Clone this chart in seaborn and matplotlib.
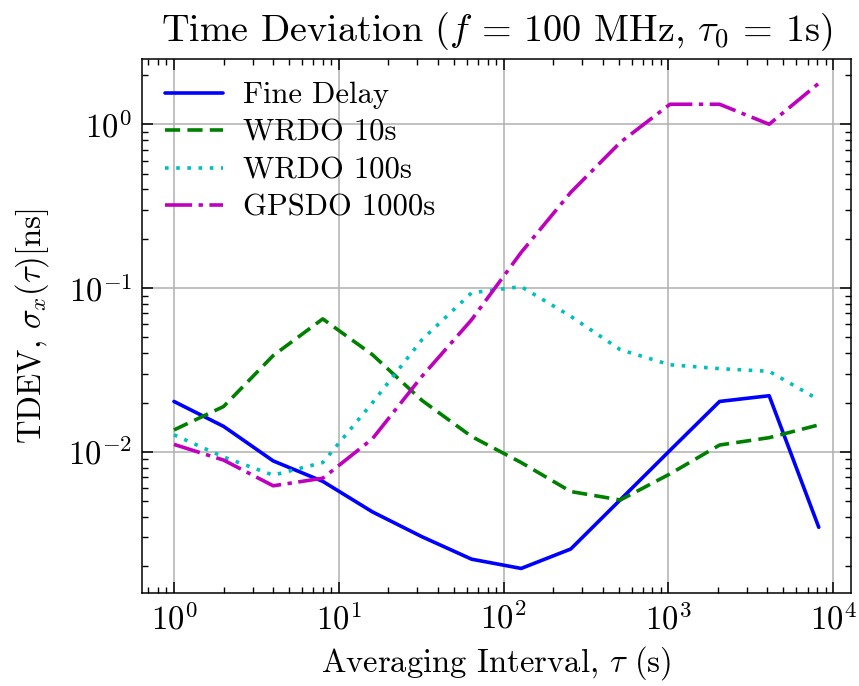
import matplotlib
matplotlib.use("Agg")
import matplotlib.pyplot as plt
import seaborn as sns
import pandas as pd
import numpy as np

# ---- data ----
tau = [1, 2, 4, 8, 16, 32, 64, 128, 256, 512, 1024, 2048, 4096, 8192]
fine_delay = [0.0203, 0.0143, 0.0088, 0.0066, 0.0043, 0.00303, 0.00221, 0.00194,
              0.00255, 0.0051, 0.0102, 0.0203, 0.0220, 0.00346]
wrdo_10s = [0.0136, 0.0189, 0.0387, 0.0648, 0.0392, 0.0206, 0.0124, 0.0086,
            0.00572, 0.00508, 0.00733, 0.0110, 0.0122, 0.0146]
wrdo_100s = [0.0127, 0.0093, 0.0072, 0.0086, 0.0199, 0.0484, 0.0935, 0.102,
             0.0672, 0.042, 0.034, 0.0322, 0.031, 0.0208]
gpsdo_1000s = [0.0111, 0.0089, 0.0062, 0.0069, 0.0120, 0.0289, 0.064, 0.165,
               0.384, 0.776, 1.325, 1.325, 1.0, 1.78]
labels = ["Fine Delay", "WRDO 10s", "WRDO 100s", "GPSDO 1000s"]
title = r"Time Deviation ($f$ = 100 MHz, $\tau_0$ = 1s)"
xlabel = r"Averaging Interval, $\tau$ (s)"
ylabel = r"TDEV, $\sigma_x(\tau)$[ns]"

sns.set_style("ticks")
plt.rcParams.update({
    "font.family": ["cmr10", "DejaVu Serif"],
    "mathtext.fontset": "cm",
    "axes.formatter.use_mathtext": True,
    "axes.unicode_minus": False,
    "axes.linewidth": 1.1,
    "text.color": "black",
    "axes.labelcolor": "black",
    "xtick.direction": "in",
    "ytick.direction": "in",
    "xtick.top": True,
    "ytick.right": True,
    "xtick.major.size": 8,
    "ytick.major.size": 8,
    "xtick.minor.size": 4.3,
    "ytick.minor.size": 4.3,
    "xtick.major.width": 1.1,
    "ytick.major.width": 1.1,
    "xtick.minor.width": 1.0,
    "ytick.minor.width": 1.0,
    "xtick.minor.visible": True,
    "ytick.minor.visible": True,
    "xtick.color": "black",
    "ytick.color": "black",
    "xtick.labelcolor": "black",
    "ytick.labelcolor": "black",
    "axes.edgecolor": "black",
})

fig = plt.figure(figsize=(8.59, 6.86), dpi=100)
ax = fig.add_axes([0.165, 0.136, 0.9907 - 0.165, 0.914 - 0.136])

series = [fine_delay, wrdo_10s, wrdo_100s, gpsdo_1000s]
colors = ["b", "g", "c", "m"]
styles = ["-", (0, (4.2, 2.0)), (0, (1, 2.1)), (0, (7.5, 1.8, 1.2, 1.8))]

for vals, lab, col, ls in zip(series, labels, colors, styles):
    df = pd.DataFrame({"tau": tau, "val": vals})
    sns.lineplot(data=df, x="tau", y="val", ax=ax, color=col, linestyle=ls,
                 linewidth=2.6, label=lab)

ax.set_xscale("log")
ax.set_yscale("log")
ax.grid(True, which="major", color="#b0b0b0", linewidth=1.1)
ax.set_axisbelow(True)

ax.set_title(title, fontsize=27.5, pad=13, color="black")
ax.set_xlabel(xlabel, fontsize=23.5, labelpad=6, color="black")
ax.set_ylabel(ylabel, fontsize=23.5, labelpad=12, color="black")
ax.tick_params(axis="both", which="major", labelsize=23.5, pad=7,
               labelcolor="black")

leg = ax.legend(loc="upper left", frameon=False, fontsize=22,
                handlelength=1.9, handletextpad=0.65, labelspacing=0.33,
                borderaxespad=0.35)
for t in leg.get_texts():
    t.set_color("black")

fig.savefig("out.png", dpi=100)
